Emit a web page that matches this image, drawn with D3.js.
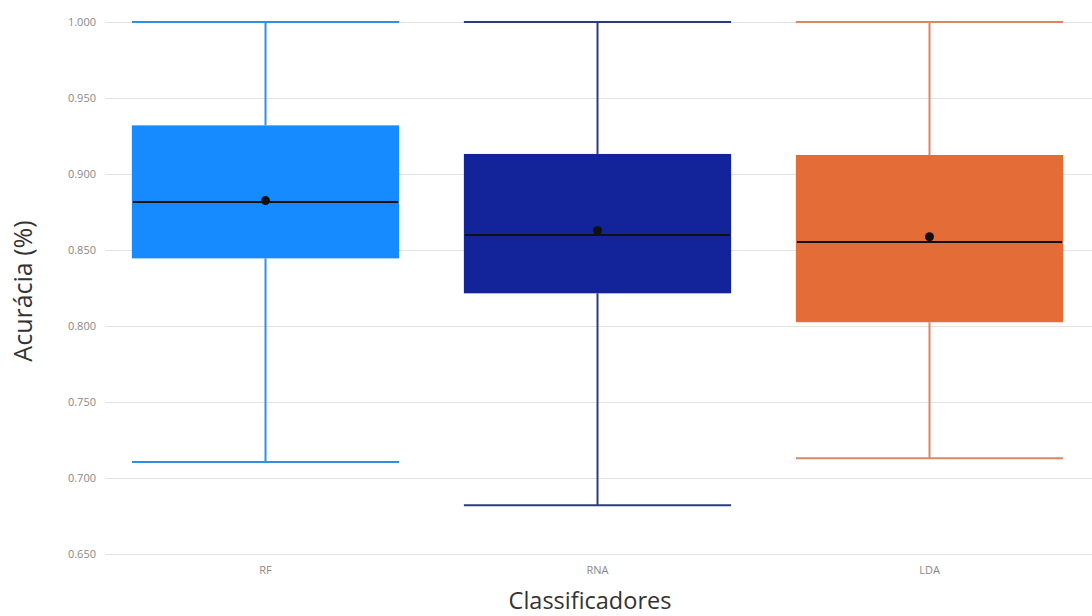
<!DOCTYPE html>
<html>
<head>
<meta charset="utf-8">
<script src="https://cdn.jsdelivr.net/npm/d3@7"></script>
<style>
  html, body { margin: 0; padding: 0; background: #fff; }
  svg { display: block; font-family: "Open Sans", "Noto Sans", sans-serif; }
</style>
</head>
<body>
<svg id="chart" width="1092" height="616"></svg>
<script>
// Accuracy distributions per classifier
const classifiers = ["RF", "RNA", "LDA"];
const lowerWhisker = [0.7105, 0.682, 0.713];
const q1 = [0.8445, 0.8215, 0.8025];
const median = [0.8815, 0.8598, 0.8553];
const q3 = [0.932, 0.9132, 0.9125];
const upperWhisker = [1.0, 1.0, 1.0];
const mean = [0.8825, 0.8628, 0.8587];
const yTicks = [0.65, 0.70, 0.75, 0.80, 0.85, 0.90, 0.95, 1.00];

const boxFill = ["#168bff", "#13239a", "#e36c37"];
const whiskerStroke = ["#2f8fe6", "#2b3b83", "#df8463"];

const svg = d3.select("#chart");
const plotLeft = 105, plotRight = 1092;

const x = d3.scaleBand().domain(classifiers).range([99.5, 1095.5]).paddingInner(0).paddingOuter(0);
const y = d3.scaleLinear().domain([0.65, 1.0]).range([554, 22]);

const boxW = x.bandwidth() * 0.805;

// gridlines
svg.append("g").selectAll("line").data(yTicks).join("line")
  .attr("x1", plotLeft).attr("x2", plotRight)
  .attr("y1", d => Math.round(y(d)) + 0.5).attr("y2", d => Math.round(y(d)) + 0.5)
  .attr("stroke", "#e3e3e3").attr("stroke-width", 1);

// y tick labels
svg.append("g").selectAll("text").data(yTicks).join("text")
  .attr("x", 96).attr("y", d => y(d))
  .attr("dy", "0.35em").attr("text-anchor", "end")
  .attr("font-size", 11).attr("fill", "#888")
  .text(d => d3.format(".3f")(d));

// x tick labels
svg.append("g").selectAll("text").data(classifiers).join("text")
  .attr("x", d => x(d) + x.bandwidth() / 2).attr("y", 574)
  .attr("text-anchor", "middle")
  .attr("font-size", 11).attr("fill", "#888")
  .text(d => d);

// axis titles
svg.append("text")
  .attr("transform", "translate(32,291) rotate(-90)")
  .attr("text-anchor", "middle")
  .attr("font-size", 25).attr("fill", "#333")
  .text("Acurácia (%)");
svg.append("text")
  .attr("x", 590).attr("y", 609)
  .attr("text-anchor", "middle")
  .attr("font-size", 23.5).attr("fill", "#333")
  .text("Classificadores");

// box plots
const g = svg.append("g");
classifiers.forEach((c, i) => {
  const cx = x(c) + x.bandwidth() / 2;
  const left = cx - boxW / 2, right = cx + boxW / 2;
  const grp = g.append("g");
  // whisker stems
  grp.append("line")
    .attr("x1", cx).attr("x2", cx)
    .attr("y1", y(upperWhisker[i])).attr("y2", y(q3[i]))
    .attr("stroke", whiskerStroke[i]).attr("stroke-width", 2);
  grp.append("line")
    .attr("x1", cx).attr("x2", cx)
    .attr("y1", y(q1[i])).attr("y2", y(lowerWhisker[i]))
    .attr("stroke", whiskerStroke[i]).attr("stroke-width", 2);
  // caps
  [upperWhisker[i], lowerWhisker[i]].forEach(v => {
    grp.append("line")
      .attr("x1", left).attr("x2", right)
      .attr("y1", y(v)).attr("y2", y(v))
      .attr("stroke", whiskerStroke[i]).attr("stroke-width", 2);
  });
  // box
  grp.append("rect")
    .attr("x", left).attr("width", boxW)
    .attr("y", y(q3[i])).attr("height", y(q1[i]) - y(q3[i]))
    .attr("fill", boxFill[i]);
  // median
  grp.append("line")
    .attr("x1", left + 1).attr("x2", right - 1)
    .attr("y1", y(median[i])).attr("y2", y(median[i]))
    .attr("stroke", "#111").attr("stroke-width", 2);
  // mean
  grp.append("circle")
    .attr("cx", cx).attr("cy", y(mean[i])).attr("r", 4.5)
    .attr("fill", "#111");
});
</script>
</body>
</html>
